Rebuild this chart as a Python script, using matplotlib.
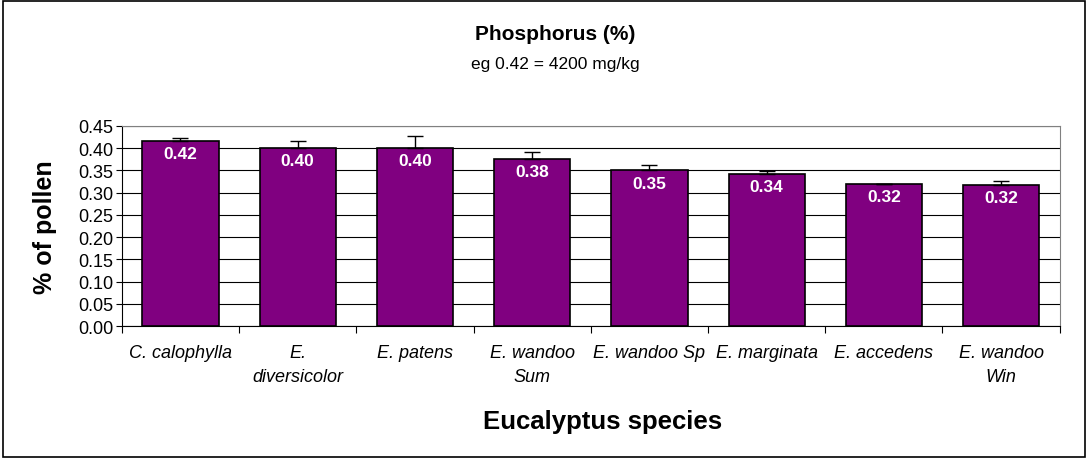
import numpy as np
import matplotlib.pyplot as plt
from matplotlib.patches import Rectangle

plt.rcParams['font.family'] = ['Liberation Sans', 'DejaVu Sans']

species = ['C. calophylla', 'E.\ndiversicolor', 'E. patens', 'E. wandoo\nSum',
           'E. wandoo Sp', 'E. marginata', 'E. accedens', 'E. wandoo\nWin']
phos = [0.417, 0.401, 0.401, 0.376, 0.350, 0.342, 0.320, 0.317]
err = [0.005, 0.015, 0.027, 0.016, 0.012, 0.006, 0.0, 0.009]
labels = ['0.42', '0.40', '0.40', '0.38', '0.35', '0.34', '0.32', '0.32']
yticks = np.arange(0, 0.451, 0.05)

fig = plt.figure(figsize=(10.88, 4.6), dpi=100)
fig.patches.append(Rectangle((0.003, 0.004), 0.994, 0.992, transform=fig.transFigure,
                             fill=False, edgecolor='black', linewidth=1.2))
ax = fig.add_axes([0.112, 0.289, 0.862, 0.435])

x = np.arange(len(species))
ax.bar(x, phos, width=0.65, color='#800080', edgecolor='black', linewidth=1.2, zorder=3)
ax.errorbar(x, phos, yerr=[np.zeros(len(err)), err], fmt='none', ecolor='black',
            elinewidth=1, capsize=6, capthick=1, zorder=4)
for xi, v, t in zip(x, phos, labels):
    ax.text(xi, v - 0.029, t, ha='center', va='center', color='white',
            fontsize=12.5, fontweight='bold', zorder=5)

ax.set_xlim(-0.5, len(species) - 0.5)
ax.set_ylim(0, 0.45)
ax.set_yticks(yticks)
ax.set_yticklabels(['%.2f' % v for v in yticks], fontsize=13)
ax.yaxis.grid(True, color='black', linewidth=0.8, zorder=0)
ax.set_axisbelow(True)
ax.tick_params(axis='y', length=4, width=0.8, pad=2)

ax.set_xticks(x)
ax.set_xticklabels(species, fontsize=13, style='italic', linespacing=1.5, va='top')
ax.tick_params(axis='x', length=0, pad=13)
ax.set_xticks(np.arange(-0.5, len(species)), minor=True)
ax.tick_params(axis='x', which='minor', length=5, width=0.8)

for s in ['top', 'right']:
    ax.spines[s].set_color('#808080')
for s in ['left', 'bottom']:
    ax.spines[s].set_color('black')

ax.set_ylabel('% of pollen', fontsize=18, fontweight='bold')
ax.yaxis.set_label_coords(-0.069, 0.5)
ax.set_xlabel('Eucalyptus species', fontsize=18.5, fontweight='bold', va='center')
ax.xaxis.set_label_coords(0.513, -0.475)

fig.text(0.51, 1 - 34 / 460, 'Phosphorus (%)', ha='center', va='center', fontsize=15, fontweight='bold')
fig.text(0.51, 1 - 65 / 460, 'eg 0.42 = 4200 mg/kg', ha='center', va='center', fontsize=12.5)

fig.savefig('out.png', dpi=100)
